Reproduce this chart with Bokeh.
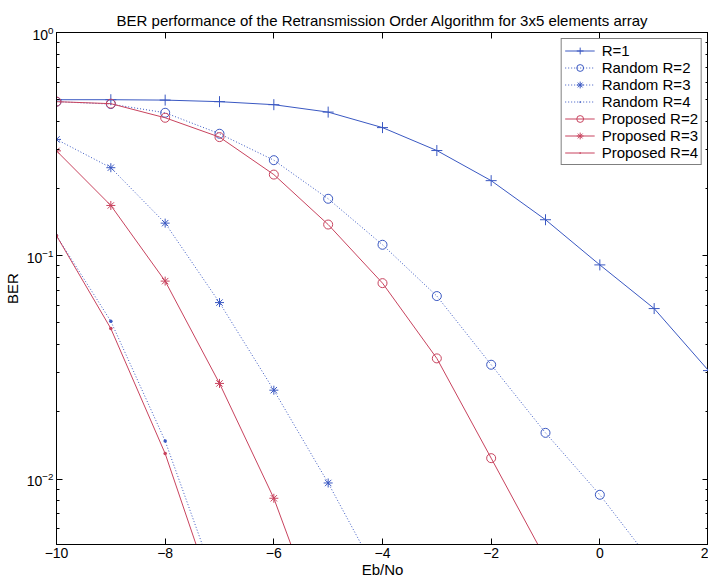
from bokeh.plotting import figure
from bokeh.models import (Range1d, FixedTicker, LogTicker, LogAxis, LinearAxis,
                          Legend, LegendItem, CustomJSTickFormatter)
from bokeh.embed import file_html
from bokeh.resources import INLINE

# ---------------- data ----------------
x_all = [-10, -9, -8, -7, -6, -5, -4, -3, -2, -1, 0, 1, 2]
r1 = [0.50, 0.50, 0.498, 0.490, 0.475, 0.440, 0.375, 0.296, 0.217, 0.145, 0.091, 0.058, 0.0306]

x_rand2 = [-10, -9, -8, -7, -6, -5, -4, -3, -2, -1, 0, 1]
rand2 = [0.49, 0.478, 0.437, 0.352, 0.268, 0.180, 0.112, 0.066, 0.0325, 0.0161, 0.0085, 0.0041]

x_rand3 = [-10, -9, -8, -7, -6, -5, -4]
rand3 = [0.332, 0.248, 0.140, 0.0617, 0.025, 0.0096, 0.0034]

x_rand4 = [-10, -9, -8, -7]
rand4 = [0.123, 0.0509, 0.0148, 0.0031]

x_prop2 = [-10, -9, -8, -7, -6, -5, -4, -3, -2, -1]
prop2 = [0.49, 0.48, 0.415, 0.340, 0.231, 0.138, 0.0754, 0.0347, 0.0124, 0.0044]

x_prop3 = [-10, -9, -8, -7, -6, -5]
prop3 = [0.295, 0.168, 0.077, 0.0268, 0.0082, 0.0018]

x_prop4 = [-10, -9, -8, -7]
prop4 = [0.123, 0.0472, 0.013, 0.0025]

x_ticks = [-10, -8, -6, -4, -2, 0, 2]

BLUE = "#3a58c2"
RED = "#c8435e"
FONT = "Liberation Sans"

p = figure(width=708, height=580, y_axis_type="log",
           x_range=Range1d(-10, 2), y_range=Range1d(0.00509, 1),
           output_backend="svg", toolbar_location=None,
           min_border_left=44, min_border_right=0, min_border_top=32,
           min_border_bottom=30)

p.title.text = "BER performance of the Retransmission Order Algorithm for 3x5 elements array"
p.title.align = "center"
p.title.text_font = FONT
p.title.text_font_size = "15px"
p.title.text_font_style = "normal"
p.title.text_color = "black"
p.title.standoff = 7

p.xgrid.visible = False
p.ygrid.visible = False
p.outline_line_color = "black"
p.background_fill_color = "white"
p.border_fill_color = "white"

p.xaxis.ticker = FixedTicker(ticks=x_ticks, minor_ticks=[])
p.yaxis.ticker = LogTicker(num_minor_ticks=10)
for ax in [p.xaxis[0], p.yaxis[0]]:
    ax.major_tick_in = 6
    ax.major_tick_out = 0
    ax.minor_tick_in = 3
    ax.minor_tick_out = 0
    ax.major_label_text_font = FONT
    ax.major_label_text_font_size = "14px"
    ax.major_label_text_color = "black"
    ax.axis_label_text_font = FONT
    ax.axis_label_text_font_size = "15px"
    ax.axis_label_text_font_style = "normal"
    ax.axis_label_text_color = "black"
    ax.axis_line_color = "black"
    ax.major_tick_line_color = "black"
    ax.minor_tick_line_color = "black"
p.xaxis.axis_label = "Eb/No"
p.yaxis.axis_label = "BER"
p.xaxis.major_label_standoff = 3
p.xaxis.axis_label_standoff = 0
p.yaxis.major_label_standoff = 3
p.yaxis.axis_label_standoff = 3

empty = CustomJSTickFormatter(code="return ''")
ra = LogAxis(ticker=LogTicker(num_minor_ticks=10), formatter=empty,
             major_tick_in=6, major_tick_out=0, minor_tick_in=3, minor_tick_out=0,
             major_label_standoff=0, axis_label_standoff=0,
             major_label_text_font_size="0px", axis_line_color="black")
ta = LinearAxis(ticker=FixedTicker(ticks=x_ticks, minor_ticks=[]), formatter=empty,
                major_tick_in=6, major_tick_out=0, minor_tick_in=0, minor_tick_out=0,
                major_label_standoff=0, axis_label_standoff=0,
                major_label_text_font_size="0px", axis_line_color="black")
p.add_layout(ra, "right")
p.add_layout(ta, "above")

items = []

def series(xs, ys, color, dash, marker, size, label, fill=None):
    ln = p.line(xs, ys, line_color=color, line_width=1, line_dash=dash)
    sc = p.scatter(xs, ys, marker=marker, size=size, line_color=color,
                   fill_color=fill, line_width=1)
    items.append(LegendItem(label=label, renderers=[ln, sc]))

series(x_all, r1, BLUE, "solid", "cross", 11, "R=1")
series(x_rand2, rand2, BLUE, "1 2", "circle", 9, "Random R=2")
series(x_rand3, rand3, BLUE, "1 2", "asterisk", 9, "Random R=3")
series(x_rand4, rand4, BLUE, "1 2", "dot", 14, "Random R=4", fill=BLUE)
series(x_prop2, prop2, RED, "solid", "circle", 9, "Proposed R=2")
series(x_prop3, prop3, RED, "solid", "asterisk", 9, "Proposed R=3")
series(x_prop4, prop4, RED, "solid", "dot", 14, "Proposed R=4", fill=RED)

legend = Legend(items=items, location="top_right")
legend.label_text_font = FONT
legend.label_text_font_size = "15px"
legend.label_text_color = "black"
legend.label_height = 17
legend.glyph_height = 17
legend.glyph_width = 30
legend.spacing = 0
legend.padding = 3
legend.margin = 6
legend.label_standoff = 7
legend.border_line_color = "black"
legend.border_line_width = 1
legend.background_fill_alpha = 1
p.add_layout(legend)

open("out.html", "w").write(file_html(p, INLINE))
